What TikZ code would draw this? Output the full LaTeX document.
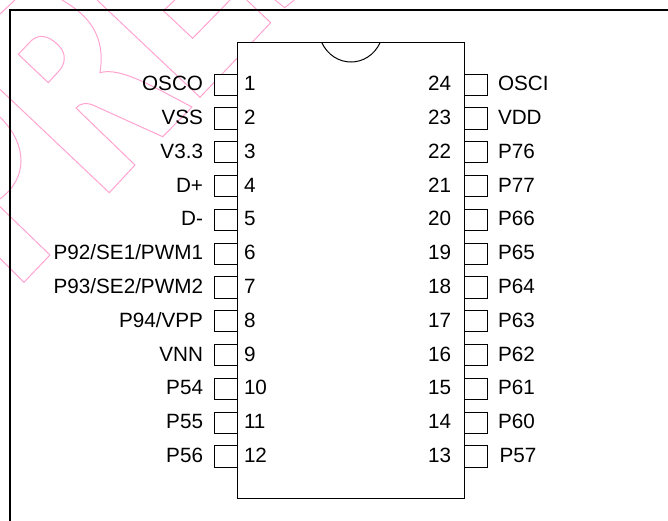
\documentclass[tikz,border=0pt]{standalone}
\usepackage{fontspec}
\setmainfont{Liberation Sans}

\definecolor{markpink}{rgb}{1,0.64,0.82}
\tikzset{every picture/.style={line width=0.75pt}}
\tikzset{
  pinbox/.style={draw=black,fill=white},
  pinlabel/.style={inner sep=0pt,font=\fontsize{15.5}{18}\selectfont},
  leftlabel/.style={pinlabel,anchor=base east},
  rightlabel/.style={pinlabel,anchor=base west},
}

\begin{document}
\begin{tikzpicture}[x=0.75pt,y=0.75pt,yscale=-1,xscale=1]
\useasboundingbox (0,0) rectangle (668,521);

%Watermark outlines
\draw [color=markpink] (0,14) -- (15,0) ;
\draw [color=markpink] (18.3,54.3) -- (48.3,82.7) -- (58,72) .. controls (66,64) and (66,54) .. (60,47) .. controls (52,38) and (40,31) .. (30,42) -- cycle ;
\draw [color=markpink] (62,0) .. controls (88,15) and (106,35) .. (100,72.7) .. controls (120,67) and (150,85) .. (192,107) -- (162.7,136.7) -- (95,106) .. controls (87,102) and (80,103) .. (76,108) -- (135,165) -- (109.3,192.7) -- (0,89.3) ;
\draw [color=markpink] (97,0) -- (200,97.3) -- (270.7,22.7) -- (246.7,0) ;
\draw [color=markpink] (175,0) -- (163.3,10.7) -- (192.7,38.3) -- (230,0) ;
\draw [color=markpink] (275,0) -- (284.7,7.7) -- (294.3,0) ;
\draw [color=markpink] (0,117) .. controls (28,145) and (28,178) .. (0,199) ;
\draw [color=markpink] (0,206.7) -- (50,255) -- (24,282.3) -- (0,258.3) ;

%Frame
\draw [line width=1.5] (668,10.3) -- (10.3,10.3) -- (10.3,521) ;

%Shape: Rectangle (chip body)
\draw [fill=white] (237,42.5) rectangle (464.7,498.5) ;
%Notch
\draw (321.7,42.5) .. controls (334,68.5) and (368,68.5) .. (380.2,42.5) ;

%Shape: Rectangle (left pins)
\draw [pinbox] (214,74) rectangle (237,95.2) ;
\draw [pinbox] (214,107.8) rectangle (237,129) ;
\draw [pinbox] (214,141.6) rectangle (237,162.8) ;
\draw [pinbox] (214,175.4) rectangle (237,196.6) ;
\draw [pinbox] (214,209.2) rectangle (237,230.4) ;
\draw [pinbox] (214,243) rectangle (237,264.2) ;
\draw [pinbox] (214,276.8) rectangle (237,298) ;
\draw [pinbox] (214,310.6) rectangle (237,331.8) ;
\draw [pinbox] (214,344.4) rectangle (237,365.6) ;
\draw [pinbox] (214,378.2) rectangle (237,399.4) ;
\draw [pinbox] (214,412) rectangle (237,433.2) ;
\draw [pinbox] (214,445.8) rectangle (237,467) ;
%Shape: Rectangle (right pins)
\draw [pinbox] (464.7,74) rectangle (487.7,95.2) ;
\draw [pinbox] (464.7,107.8) rectangle (487.7,129) ;
\draw [pinbox] (464.7,141.6) rectangle (487.7,162.8) ;
\draw [pinbox] (464.7,175.4) rectangle (487.7,196.6) ;
\draw [pinbox] (464.7,209.2) rectangle (487.7,230.4) ;
\draw [pinbox] (464.7,243) rectangle (487.7,264.2) ;
\draw [pinbox] (464.7,276.8) rectangle (487.7,298) ;
\draw [pinbox] (464.7,310.6) rectangle (487.7,331.8) ;
\draw [pinbox] (464.7,344.4) rectangle (487.7,365.6) ;
\draw [pinbox] (464.7,378.2) rectangle (487.7,399.4) ;
\draw [pinbox] (464.7,412) rectangle (487.7,433.2) ;
\draw [pinbox] (464.7,445.8) rectangle (487.7,467) ;

% Text Node: left names
\draw (203.5,90.7) node [leftlabel] (osco) {OSCO};
\draw (203.5,124.5) node [leftlabel] (vss) {VSS};
\draw (203.5,158.3) node [leftlabel] (vthree) {V3.3};
\draw (203.5,192.1) node [leftlabel] (dplus) {D+};
\draw (203.5,225.9) node [leftlabel] (dminus) {D-};
\draw (203.5,259.7) node [leftlabel] (pninetwo) {P92/SE1/PWM1};
\draw (203.5,293.5) node [leftlabel] (pninethree) {P93/SE2/PWM2};
\draw (203.5,327.3) node [leftlabel] (pninefour) {P94/VPP};
\draw (203.5,361.1) node [leftlabel] (vnn) {VNN};
\draw (203.5,394.9) node [leftlabel] (pfivefour) {P54};
\draw (203.5,428.7) node [leftlabel] (pfivefive) {P55};
\draw (203.5,462.5) node [leftlabel] (pfivesix) {P56};
% Text Node: left numbers
\draw (243.5,90.7) node [rightlabel] (num1) {1};
\draw (243.5,124.5) node [rightlabel] (num2) {2};
\draw (243.5,158.3) node [rightlabel] (num3) {3};
\draw (243.5,192.1) node [rightlabel] (num4) {4};
\draw (243.5,225.9) node [rightlabel] (num5) {5};
\draw (243.5,259.7) node [rightlabel] (num6) {6};
\draw (243.5,293.5) node [rightlabel] (num7) {7};
\draw (243.5,327.3) node [rightlabel] (num8) {8};
\draw (243.5,361.1) node [rightlabel] (num9) {9};
\draw (243.5,394.9) node [rightlabel] (num10) {10};
\draw (243.5,428.7) node [rightlabel] (num11) {11};
\draw (243.5,462.5) node [rightlabel] (num12) {12};
% Text Node: right numbers
\draw (451.5,90.7) node [leftlabel] (num24) {24};
\draw (451.5,124.5) node [leftlabel] (num23) {23};
\draw (451.5,158.3) node [leftlabel] (num22) {22};
\draw (451.5,192.1) node [leftlabel] (num21) {21};
\draw (451.5,225.9) node [leftlabel] (num20) {20};
\draw (451.5,259.7) node [leftlabel] (num19) {19};
\draw (451.5,293.5) node [leftlabel] (num18) {18};
\draw (451.5,327.3) node [leftlabel] (num17) {17};
\draw (451.5,361.1) node [leftlabel] (num16) {16};
\draw (451.5,394.9) node [leftlabel] (num15) {15};
\draw (451.5,428.7) node [leftlabel] (num14) {14};
\draw (451.5,462.5) node [leftlabel] (num13) {13};
% Text Node: right names
\draw (497.5,90.7) node [rightlabel] (osci) {OSCI};
\draw (497.5,124.5) node [rightlabel] (vdd) {VDD};
\draw (497.5,158.3) node [rightlabel] (psevensix) {P76};
\draw (497.5,192.1) node [rightlabel] (psevenseven) {P77};
\draw (497.5,225.9) node [rightlabel] (psixsix) {P66};
\draw (497.5,259.7) node [rightlabel] (psixfive) {P65};
\draw (497.5,293.5) node [rightlabel] (psixfour) {P64};
\draw (497.5,327.3) node [rightlabel] (psixthree) {P63};
\draw (497.5,361.1) node [rightlabel] (psixtwo) {P62};
\draw (497.5,394.9) node [rightlabel] (psixone) {P61};
\draw (497.5,428.7) node [rightlabel] (psixzero) {P60};
\draw (499,462.5) node [rightlabel] (pfiveseven) {P57};

\end{tikzpicture}
\end{document}
